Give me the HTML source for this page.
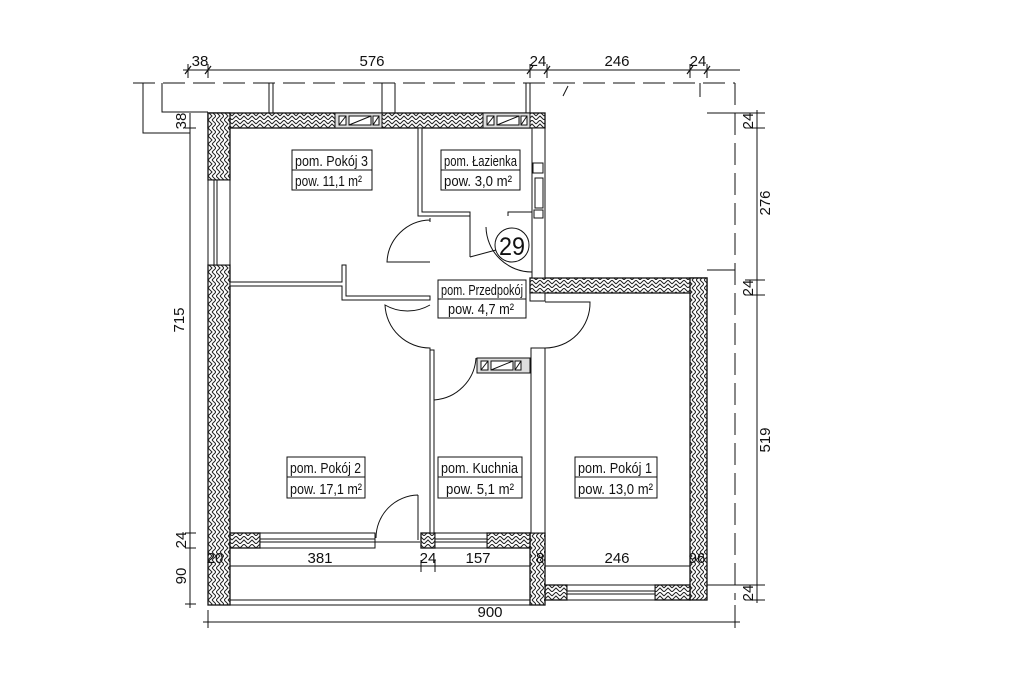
<!DOCTYPE html>
<html><head><meta charset="utf-8"><style>
html,body{margin:0;padding:0;background:#fff;}
svg{display:block;}
text{font-family:"Liberation Sans Narrow","Liberation Sans",sans-serif;fill:#111;}
</style></head><body>
<svg width="1024" height="683" viewBox="0 0 1024 683" xmlns="http://www.w3.org/2000/svg">
<defs>
<pattern id="h" width="8" height="8" patternUnits="userSpaceOnUse">
<rect width="8" height="8" fill="#fff"/>
<path d="M0 4 L4 0 L8 4 M0 8 L4 4 L8 8" fill="none" stroke="#222" stroke-width="1"/>
</pattern>
<pattern id="hv" width="8" height="8" patternUnits="userSpaceOnUse">
<rect width="8" height="8" fill="#fff"/>
<path d="M0 0 L4 4 L0 8 M4 0 L8 4 L4 8" fill="none" stroke="#222" stroke-width="1"/>
</pattern>
</defs>
<g stroke="#111" stroke-width="1" fill="none">
<line x1="183" y1="70" x2="740" y2="70"/>
<g stroke-width="1.2">
<line x1="185" y1="74" x2="191" y2="66"/><line x1="205" y1="74" x2="211" y2="66"/>
<line x1="527" y1="74" x2="533" y2="66"/><line x1="544" y1="74" x2="550" y2="66"/>
<line x1="687" y1="74" x2="693" y2="66"/><line x1="704" y1="74" x2="710" y2="66"/>
</g>
<line x1="188" y1="64" x2="188" y2="78"/><line x1="208" y1="64" x2="208" y2="78"/>
<line x1="530" y1="64" x2="530" y2="78"/><line x1="547" y1="64" x2="547" y2="78"/>
<line x1="690" y1="64" x2="690" y2="78"/><line x1="707" y1="64" x2="707" y2="78"/>
<line x1="133" y1="83" x2="735" y2="83" stroke-dasharray="22,8"/>
<line x1="735" y1="83" x2="735" y2="600" stroke-dasharray="22,8"/>
<polyline points="143,83 143,133 190,133"/>
<polyline points="162,83 162,112 208,112"/>
<line x1="269" y1="83" x2="269" y2="113"/><line x1="273" y1="83" x2="273" y2="113"/>
<line x1="382" y1="83" x2="382" y2="113"/><line x1="395" y1="83" x2="395" y2="113"/>
<line x1="526" y1="83" x2="526" y2="113"/><line x1="530" y1="83" x2="530" y2="113"/>
<line x1="563" y1="96" x2="568" y2="86"/><line x1="700" y1="83" x2="700" y2="97"/>
<line x1="707" y1="270" x2="735" y2="270"/>
<line x1="190" y1="113" x2="190" y2="608"/>
<line x1="185" y1="128" x2="196" y2="128"/><line x1="185" y1="533" x2="196" y2="533"/>
<line x1="185" y1="548" x2="196" y2="548"/><line x1="185" y1="604" x2="196" y2="604"/>
<line x1="757" y1="110" x2="757" y2="603"/>
<line x1="707" y1="113" x2="765" y2="113"/><line x1="745" y1="128" x2="765" y2="128"/>
<line x1="745" y1="280" x2="765" y2="280"/><line x1="745" y1="295" x2="765" y2="295"/>
<line x1="707" y1="585" x2="765" y2="585"/><line x1="745" y1="600" x2="765" y2="600"/>
<line x1="203" y1="622" x2="740" y2="622"/>
<line x1="208" y1="610" x2="208" y2="628"/><line x1="735" y1="605" x2="735" y2="628"/>
<line x1="208" y1="566" x2="707" y2="566"/>
<line x1="230" y1="560" x2="230" y2="572"/><line x1="421" y1="560" x2="421" y2="572"/>
<line x1="435" y1="560" x2="435" y2="572"/><line x1="690" y1="560" x2="690" y2="572"/>
</g>
<g stroke="#111" stroke-width="1.3">
<rect x="208" y="113" width="337" height="15" fill="url(#h)"/>
<rect x="208" y="113" width="22" height="67" fill="url(#hv)"/>
<rect x="208" y="265" width="22" height="340" fill="url(#hv)"/>
<rect x="530" y="278" width="177" height="15" fill="url(#h)"/>
<rect x="690" y="278" width="17" height="322" fill="url(#hv)"/>
<rect x="545" y="585" width="22" height="15" fill="url(#h)"/>
<rect x="655" y="585" width="35" height="15" fill="url(#h)"/>
<rect x="530" y="533" width="15" height="72" fill="url(#hv)"/>
<rect x="230" y="533" width="30" height="15" fill="url(#h)"/>
<rect x="421" y="533" width="14" height="15" fill="url(#h)"/>
<rect x="487" y="533" width="43" height="15" fill="url(#h)"/>
</g>
<g stroke="#111" stroke-width="1" fill="#fff">
<rect x="208" y="180" width="22" height="85" fill="#fff"/>
<line x1="214" y1="180" x2="214" y2="265"/><line x1="217" y1="180" x2="217" y2="265"/>
<rect x="260" y="533" width="115" height="15"/><line x1="260" y1="539" x2="375" y2="539"/><line x1="260" y1="542" x2="420" y2="542"/>
<rect x="435" y="533" width="52" height="15"/><line x1="435" y1="539" x2="487" y2="539"/><line x1="435" y1="542" x2="487" y2="542"/>
<rect x="567" y="585" width="88" height="15"/><line x1="567" y1="591" x2="655" y2="591"/><line x1="567" y1="594" x2="655" y2="594"/>
<line x1="230" y1="600" x2="530" y2="600"/><line x1="208" y1="605" x2="545" y2="605"/>
<line x1="230" y1="548" x2="230" y2="600"/>
<rect x="335" y="113" width="47" height="15" fill="#ddd"/>
<rect x="339" y="116" width="7" height="9"/><rect x="349" y="116" width="22" height="9"/><rect x="373" y="116" width="6" height="9"/>
<line x1="349" y1="125" x2="371" y2="116"/><line x1="339" y1="125" x2="346" y2="116"/><line x1="373" y1="125" x2="379" y2="116"/>
<rect x="483" y="113" width="47" height="15" fill="#ddd"/>
<rect x="487" y="116" width="7" height="9"/><rect x="497" y="116" width="22" height="9"/><rect x="521" y="116" width="6" height="9"/>
<line x1="497" y1="125" x2="519" y2="116"/><line x1="487" y1="125" x2="494" y2="116"/><line x1="521" y1="125" x2="527" y2="116"/>
<rect x="477" y="358" width="53" height="15" fill="#ddd"/>
<rect x="481" y="361" width="7" height="9"/><rect x="491" y="361" width="22" height="9"/><rect x="515" y="361" width="6" height="9"/>
<line x1="491" y1="370" x2="513" y2="361"/><line x1="481" y1="370" x2="488" y2="361"/><line x1="515" y1="370" x2="521" y2="361"/>
<rect x="532" y="128" width="13" height="150"/>
<rect x="533" y="163" width="10" height="10"/><rect x="535" y="178" width="8" height="30"/><rect x="534" y="210" width="9" height="8"/>
<rect x="530" y="293" width="15" height="8"/>
<polygon points="418,128 422,128 422,212 470,212 470,216 418,216"/>
<line x1="470" y1="216" x2="470" y2="257"/><line x1="470" y1="257" x2="496" y2="250"/>
<polyline points="508,216 508,212 532,212" fill="none"/>
<polygon points="230,282 342,282 342,265 346,265 346,296 430,296 430,300 342,300 342,286 230,286"/>
<rect x="430" y="350" width="4" height="183"/>
<rect x="531" y="348" width="14" height="185"/>
</g>
<g stroke="#111" stroke-width="1" fill="none">
<path d="M430 218 L430 222 M430 220 A44 44 0 0 0 387 262 L430 262"/>
<path d="M486 227 A46 46 0 0 0 532 272"/>
<path d="M430 305 A45 45 0 0 1 385 305 A45 45 0 0 0 430 348 L430 350"/>
<path d="M545 302 L590 302 A45 45 0 0 1 545 348"/>
<path d="M434 400 A45 45 0 0 0 476 358"/>
<path d="M418 495 L418 540 M418 495 A43 43 0 0 0 376 538"/>
<circle cx="512" cy="245" r="17" fill="#fff"/>
</g>
<text x="512" y="255" font-size="25" text-anchor="middle" textLength="26" lengthAdjust="spacingAndGlyphs">29</text>
<g stroke="#111" stroke-width="1" fill="#fff">
<rect x="292" y="150" width="80" height="40"/><line x1="292" y1="170" x2="372" y2="170"/>
<rect x="441" y="150" width="79" height="40"/><line x1="441" y1="170" x2="520" y2="170"/>
<rect x="438" y="280" width="88" height="38"/><line x1="438" y1="299" x2="526" y2="299"/>
<rect x="287" y="457" width="78" height="41"/><line x1="287" y1="477" x2="365" y2="477"/>
<rect x="438" y="457" width="84" height="41"/><line x1="438" y1="477" x2="522" y2="477"/>
<rect x="575" y="457" width="82" height="41"/><line x1="575" y1="477" x2="657" y2="477"/>
</g>
<g font-size="15" lengthAdjust="spacingAndGlyphs">
<text x="295" y="166" textLength="73" lengthAdjust="spacingAndGlyphs">pom. Pokój 3</text>
<text x="295" y="186" textLength="67" lengthAdjust="spacingAndGlyphs">pow. 11,1 m²</text>
<text x="444" y="166" textLength="73" lengthAdjust="spacingAndGlyphs">pom. Łazienka</text>
<text x="444" y="186" textLength="68" lengthAdjust="spacingAndGlyphs">pow. 3,0 m²</text>
<text x="441" y="295" textLength="82" lengthAdjust="spacingAndGlyphs">pom. Przedpokój</text>
<text x="448" y="314" textLength="66" lengthAdjust="spacingAndGlyphs">pow. 4,7 m²</text>
<text x="290" y="473" textLength="71" lengthAdjust="spacingAndGlyphs">pom. Pokój 2</text>
<text x="290" y="494" textLength="72" lengthAdjust="spacingAndGlyphs">pow. 17,1 m²</text>
<text x="441" y="473" textLength="77" lengthAdjust="spacingAndGlyphs">pom. Kuchnia</text>
<text x="446" y="494" textLength="68" lengthAdjust="spacingAndGlyphs">pow. 5,1 m²</text>
<text x="578" y="473" textLength="74" lengthAdjust="spacingAndGlyphs">pom. Pokój 1</text>
<text x="578" y="494" textLength="75" lengthAdjust="spacingAndGlyphs">pow. 13,0 m²</text>
</g>
<g font-size="15" text-anchor="middle">
<text x="200" y="66">38</text><text x="372" y="66">576</text><text x="538" y="66">24</text>
<text x="617" y="66">246</text><text x="698" y="66">24</text>
<text x="490" y="617">900</text>
<text x="215" y="563">20</text><text x="320" y="563">381</text><text x="428" y="563">24</text>
<text x="478" y="563">157</text><text x="540" y="563">8</text><text x="617" y="563">246</text><text x="697" y="563">96</text>
<text transform="translate(186,121) rotate(-90)">38</text>
<text transform="translate(184,320) rotate(-90)">715</text>
<text transform="translate(186,540) rotate(-90)">24</text>
<text transform="translate(186,576) rotate(-90)">90</text>
<text transform="translate(753,121) rotate(-90)">24</text>
<text transform="translate(770,203) rotate(-90)">276</text>
<text transform="translate(753,288) rotate(-90)">24</text>
<text transform="translate(770,440) rotate(-90)">519</text>
<text transform="translate(753,593) rotate(-90)">24</text>
</g>
</svg>
</body></html>
